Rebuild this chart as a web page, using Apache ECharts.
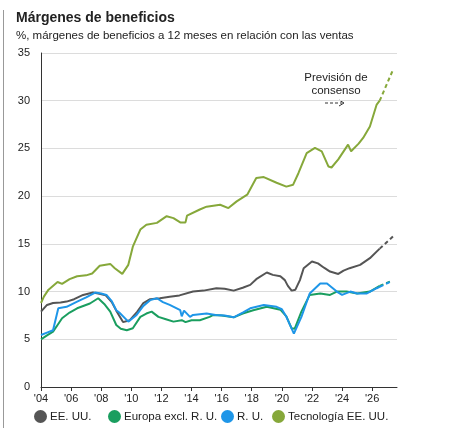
<!DOCTYPE html>
<html>
<head>
<meta charset="utf-8">
<script src="https://cdn.jsdelivr.net/npm/echarts@6/dist/echarts.min.js"></script>
<style>
  html, body { margin: 0; padding: 0; background: #fff; }
  #chart { width: 453px; height: 434px; }
</style>
</head>
<body>
<div id="chart"></div>
<script>
// Márgenes de beneficios ([year, %])
const usHist = [
    [2004.0, 7.9], [2004.4, 8.6], [2004.8, 8.8], [2005.3, 8.85], [2005.7, 8.95], [2006.2, 9.2],
    [2006.8, 9.65], [2007.45, 9.9], [2007.8, 9.8], [2008.3, 9.6], [2008.7, 8.9], [2009.0, 8.0],
    [2009.45, 6.8], [2009.9, 7.0], [2010.4, 7.9], [2010.8, 8.8], [2011.25, 9.2], [2011.9, 9.3],
    [2012.55, 9.45], [2013.2, 9.6], [2014.1, 10.0], [2014.8, 10.1], [2015.65, 10.35], [2016.2, 10.3],
    [2016.8, 10.1], [2017.4, 10.4], [2017.9, 10.7], [2018.3, 11.3], [2019.0, 12.0], [2019.4, 11.75],
    [2019.9, 11.6], [2020.2, 11.2], [2020.4, 10.6], [2020.65, 10.1], [2020.9, 10.2], [2021.2, 11.2],
    [2021.45, 12.45], [2022.0, 13.15], [2022.4, 12.95], [2022.8, 12.5], [2023.2, 12.1], [2023.75, 11.85],
    [2024.1, 12.2], [2024.5, 12.45], [2025.2, 12.8], [2025.85, 13.5], [2026.5, 14.5]
];
const usFcst = [[2026.5, 14.5], [2027.5, 15.95]];

const euHist = [
    [2004.0, 5.0], [2004.4, 5.4], [2004.8, 5.8], [2005.1, 6.5], [2005.4, 7.2], [2005.9, 7.8],
    [2006.4, 8.25], [2007.25, 8.75], [2007.8, 9.3], [2008.2, 8.7], [2008.6, 7.9], [2009.0, 6.5],
    [2009.3, 6.1], [2009.7, 5.95], [2010.1, 6.15], [2010.6, 7.35], [2011.0, 7.7], [2011.35, 7.9],
    [2011.8, 7.35], [2012.3, 7.1], [2012.8, 6.85], [2013.35, 7.0], [2013.6, 6.8], [2014.0, 7.0],
    [2014.55, 7.0], [2015.2, 7.35], [2015.45, 7.55], [2016.0, 7.5], [2016.8, 7.3], [2017.4, 7.7],
    [2018.1, 8.05], [2019.0, 8.4], [2019.9, 8.1], [2020.3, 7.4], [2020.65, 6.15], [2020.85, 6.1],
    [2021.3, 7.9], [2021.85, 9.65], [2022.55, 9.8], [2023.2, 9.65], [2023.65, 10.0], [2024.3, 10.0],
    [2025.0, 9.8], [2025.85, 10.0], [2026.5, 10.6]
];
const euFcst = [[2026.5, 10.6], [2027.2, 11.05]];

const ukHist = [
    [2004.0, 5.45], [2004.4, 5.7], [2004.8, 5.95], [2005.15, 8.25], [2005.7, 8.4], [2006.4, 8.95],
    [2007.0, 9.4], [2007.6, 9.9], [2008.0, 9.8], [2008.35, 9.65], [2008.7, 9.0], [2009.0, 8.05],
    [2009.2, 7.8], [2009.8, 6.85], [2010.35, 7.55], [2010.8, 8.5], [2011.25, 9.1], [2011.7, 9.3],
    [2012.1, 8.9], [2012.55, 8.6], [2013.25, 8.05], [2013.35, 7.4], [2013.5, 8.0], [2013.9, 7.35],
    [2014.1, 7.55], [2015.0, 7.7], [2015.6, 7.55], [2016.2, 7.5], [2016.8, 7.3], [2017.4, 7.8],
    [2017.9, 8.25], [2018.8, 8.6], [2019.65, 8.4], [2020.0, 8.15], [2020.3, 7.35], [2020.8, 5.6],
    [2021.3, 7.35], [2021.85, 9.8], [2022.55, 10.85], [2023.0, 10.85], [2023.65, 10.0], [2024.0, 9.65],
    [2024.55, 10.0], [2025.0, 9.8], [2025.65, 9.8], [2026.3, 10.35], [2026.5, 10.5]
];
const ukFcst = [[2026.5, 10.5], [2027.3, 11.1]];

const techHist = [
    [2004.0, 8.8], [2004.2, 9.5], [2004.5, 10.2], [2005.1, 11.0], [2005.4, 10.8], [2005.9, 11.3],
    [2006.4, 11.6], [2007.0, 11.7], [2007.4, 11.9], [2007.9, 12.7], [2008.6, 12.9], [2008.9, 12.45],
    [2009.4, 11.85], [2009.8, 12.8], [2010.1, 14.7], [2010.6, 16.5], [2011.0, 17.0], [2011.7, 17.2],
    [2012.35, 17.9], [2012.8, 17.7], [2013.25, 17.25], [2013.6, 17.25], [2013.7, 17.95], [2014.55, 18.6],
    [2015.0, 18.9], [2015.9, 19.1], [2016.45, 18.75], [2017.0, 19.45], [2017.7, 20.15], [2018.3, 21.9],
    [2018.8, 22.0], [2019.65, 21.4], [2020.3, 21.0], [2020.75, 21.2], [2021.1, 22.4], [2021.65, 24.5],
    [2022.2, 25.05], [2022.65, 24.7], [2023.1, 23.1], [2023.3, 23.0], [2023.75, 23.85], [2024.4, 25.4],
    [2024.6, 24.7], [2025.1, 25.5], [2025.4, 26.1], [2025.85, 27.3], [2026.3, 29.6], [2026.5, 30.0]
];
const techFcst = [[2026.5, 30.0], [2027.4, 33.3]];

const seriesNames = ['EE. UU.', 'Europa excl. R. U.', 'R. U.', 'Tecnología EE. UU.'];
const seriesColors = ['#555555', '#1a9e5f', '#1e96e8', '#86a83a'];
const legendLeft = [29, 103, 216, 267];

const FONT = '"Liberation Sans", Arial, sans-serif';

function histSeries(name, color, data, z) {
    return {
        name: name, type: 'line', data: data, z: z,
        showSymbol: false, symbol: 'circle', color: color,
        lineStyle: { width: 2, color: color }
    };
}
function fcstSeries(color, data, z) {
    return {
        type: 'line', data: data, z: z, showSymbol: false, silent: true,
        lineStyle: { width: 2, color: color, type: [4, 3] }
    };
}

// one legend per item so each sits where the reference has it
const legends = seriesNames.map((n, i) => ({
    data: [n],
    left: legendLeft[i], top: 405,
    icon: 'circle', itemWidth: 13, itemHeight: 13, itemGap: 0,
    textStyle: { fontSize: 11.5, color: '#222', fontFamily: FONT, padding: [0, 0, 0, -2] }
}));

const chart = echarts.init(document.getElementById('chart'));
chart.setOption({
    animation: false,
    textStyle: { fontFamily: FONT },
    title: {
        text: 'Márgenes de beneficios',
        subtext: '%, márgenes de beneficios a 12 meses en relación con las ventas',
        left: 11, top: 6, itemGap: 5,
        textStyle: { fontSize: 14, fontWeight: 'bold', color: '#222', fontFamily: FONT },
        subtextStyle: { fontSize: 11.5, color: '#222', fontFamily: FONT }
    },
    legend: legends,
    grid: { left: 41, right: 56, top: 53, bottom: 47 },
    xAxis: {
        type: 'value', min: 2004, max: 2027.65, interval: 2,
        axisLine: { lineStyle: { color: '#333', width: 1 } },
        axisTick: { show: true, length: 4, lineStyle: { color: '#333' } },
        splitLine: { show: false },
        axisLabel: {
            color: '#222', fontSize: 11, margin: 6,
            showMaxLabel: false,
            formatter: v => "'" + String(Math.round(v)).slice(2)
        }
    },
    yAxis: {
        type: 'value', min: 0, max: 35, interval: 5,
        axisLine: { show: true, lineStyle: { color: '#333', width: 1 } },
        axisTick: { show: false },
        splitLine: { lineStyle: { color: '#dcdcdc', width: 1 } },
        axisLabel: { color: '#222', fontSize: 11, margin: 11 }
    },
    graphic: [
        { type: 'line', shape: { x1: 3.5, y1: 10, x2: 3.5, y2: 428 }, style: { stroke: '#999', lineWidth: 1 } },
        {
            type: 'text', x: 336, y: 72,
            style: { text: 'Previsión de\nconsenso', font: '11.5px ' + FONT, fill: '#222', align: 'center', verticalAlign: 'top', lineHeight: 12.5 }
        },
        { type: 'line', shape: { x1: 325, y1: 103, x2: 342, y2: 103 }, style: { stroke: '#333', lineWidth: 1, lineDash: [3, 2] } },
        { type: 'polyline', shape: { points: [[339, 100], [344, 103], [339, 106]] }, style: { stroke: '#333', lineWidth: 1, fill: null } }
    ],
    series: [
        histSeries(seriesNames[3], seriesColors[3], techHist, 2),
        fcstSeries(seriesColors[3], techFcst, 2),
        histSeries(seriesNames[0], seriesColors[0], usHist, 3),
        fcstSeries(seriesColors[0], usFcst, 3),
        histSeries(seriesNames[1], seriesColors[1], euHist, 4),
        fcstSeries(seriesColors[1], euFcst, 4),
        histSeries(seriesNames[2], seriesColors[2], ukHist, 5),
        fcstSeries(seriesColors[2], ukFcst, 5)
    ]
});
</script>
</body>
</html>
